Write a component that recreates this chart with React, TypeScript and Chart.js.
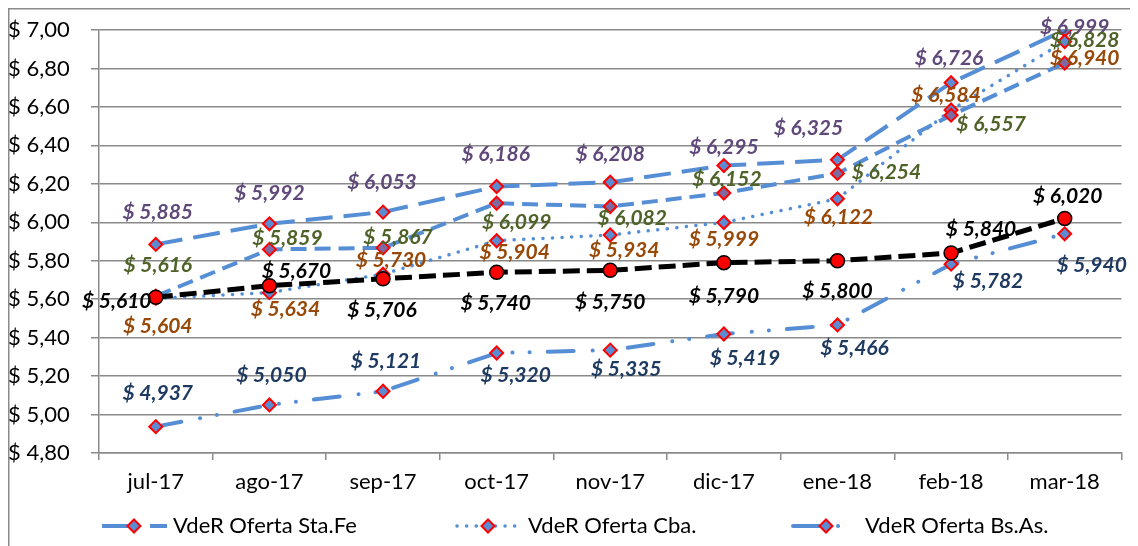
import { useEffect, useRef } from "react";
import { Chart, registerables } from "chart.js";
Chart.register(...registerables);

const categories = ["jul-17", "ago-17", "sep-17", "oct-17", "nov-17", "dic-17", "ene-18", "feb-18", "mar-18"];
const staFe = [5.885, 5.992, 6.053, 6.186, 6.208, 6.295, 6.325, 6.726, 6.999];
const cba = [5.604, 5.634, 5.73, 5.904, 5.934, 5.999, 6.122, 6.584, 6.94];
const bsAs = [4.937, 5.05, 5.121, 5.32, 5.335, 5.419, 5.466, 5.782, 5.94];
const serie4 = [5.616, 5.859, 5.867, 6.099, 6.082, 6.152, 6.254, 6.557, 6.828];
const serie5 = [5.61, 5.67, 5.706, 5.74, 5.75, 5.79, 5.8, 5.84, 6.02];
const seriesNames = ["VdeR Oferta Sta.Fe", "VdeR Oferta Cba.", "VdeR Oferta Bs.As.", "Serie 4", "Serie 5"];
const yMin = 4.8;
const yMax = 7.0;
const yStep = 0.2;

// label offsets (styling only) [dx, dy] relative to point
const offStaFe = [[2, -32], [0, -31], [-1, -30], [-1, -32], [0, -28], [0, -18], [-29, -32], [-2, -24], [10, -3]];
const offCba = [[2, 28], [16, 17], [8, -14], [18, 12], [14, 15], [0, 17], [1, 18], [-5, -15], [20, 17]];
const offBsAs = [[2, -33], [2, -30], [3, -30], [19, 22], [16, 19], [21, 24], [17, 23], [37, 17], [27, 31]];
const offS4 = [[2, -31], [18, -11], [15, -11], [20, 19], [22, 12], [3, -14], [49, -1], [40, 9], [20, -23]];
const offS5 = [[-39, 4], [27, -14], [-1, 31], [-1, 31], [0, 32], [0, 34], [0, 31], [30, -24], [3, -22]];

const FONT = "Lato, 'Open Sans', sans-serif";
const LINE = "#558ED5";

const fmtTick = (v: number) => "$ " + v.toFixed(2).replace(".", ",");
const fmtLabel = (v: number) => "$ " + v.toFixed(3).replace(".", ",");

export default function App() {
  const ref = useRef<HTMLCanvasElement | null>(null);
  useEffect(() => {
    if (!ref.current) return;
    const labelColors = ["#5F497A", "#984807", "#1F3A60", "#4F6228", "#000000"];
    const offsets = [offStaFe, offCba, offBsAs, offS4, offS5];

    const labelsPlugin = {
      id: "valueLabels",
      afterDatasetsDraw(chart: any) {
        const ctx = chart.ctx;
        ctx.save();
        ctx.font = `italic bold 21px ${FONT}`;
        ctx.textAlign = "center";
        ctx.textBaseline = "middle";
        chart.data.datasets.forEach((ds: any, i: number) => {
          const meta = chart.getDatasetMeta(i);
          ctx.fillStyle = labelColors[i];
          meta.data.forEach((pt: any, j: number) => {
            const o = offsets[i][j];
            ctx.fillText(fmtLabel(ds.data[j]), pt.x + o[0], pt.y + o[1]);
          });
        });
        ctx.restore();
      },
    };

    const frame = {
      id: "frame",
      beforeDraw(chart: any) {
        const ctx = chart.ctx;
        ctx.save();
        ctx.fillStyle = "#fff";
        ctx.fillRect(0, 0, chart.width, chart.height);
        ctx.strokeStyle = "#8a8a8a";
        ctx.lineWidth = 1.5;
        ctx.beginPath();
        ctx.moveTo(0.75, chart.height);
        ctx.lineTo(0.75, 0.75);
        ctx.lineTo(chart.width, 0.75);
        ctx.stroke();
        ctx.restore();
      },
    };

    const legendItems = [
      { ds: 0, x0: 94, x1: 159, mx: 126, tx: 165, dash: [26, 22] },
      { ds: 1, x0: 449, x1: 513, mx: 480, tx: 520, dash: null },
      { ds: 2, x0: 785, x1: 836, mx: 818, tx: 857, dash: null },
    ];
    const legendPlugin = {
      id: "customLegend",
      afterDraw(chart: any) {
        const ctx = chart.ctx;
        const y = 518;
        ctx.save();
        legendItems.forEach((it) => {
          const ds = chart.data.datasets[it.ds];
          ctx.strokeStyle = ds.borderColor;
          ctx.lineWidth = ds.borderWidth;
          ctx.lineCap = ds.borderCapStyle || "butt";
          ctx.setLineDash(it.dash || ds.borderDash || []);
          ctx.beginPath();
          ctx.moveTo(it.x0, y);
          ctx.lineTo(it.x1, y);
          ctx.stroke();
          ctx.setLineDash([]);
          const r = 6.5;
          ctx.beginPath();
          ctx.moveTo(it.mx, y - r);
          ctx.lineTo(it.mx + r, y);
          ctx.lineTo(it.mx, y + r);
          ctx.lineTo(it.mx - r, y);
          ctx.closePath();
          ctx.fillStyle = ds.pointBackgroundColor;
          ctx.fill();
          ctx.strokeStyle = ds.pointBorderColor;
          ctx.lineWidth = 2;
          ctx.stroke();
          ctx.fillStyle = "#000";
          ctx.font = `22px ${FONT}`;
          ctx.textAlign = "left";
          ctx.textBaseline = "middle";
          ctx.fillText(ds.label, it.tx, y);
        });
        ctx.restore();
      },
    };

    const diamond = (fill: string) => ({
      pointStyle: "rectRot",
      pointRadius: 6.5,
      pointBackgroundColor: fill,
      pointBorderColor: "#FF0000",
      pointBorderWidth: 2,
    });

    const chart = new Chart(ref.current, {
      type: "line",
      data: {
        labels: categories,
        datasets: [
          {
            label: seriesNames[0], data: staFe, borderColor: LINE, borderWidth: 4,
            borderDash: [27, 11], order: 4, ...diamond("#5B8BD0"),
          },
          {
            label: seriesNames[1], data: cba, borderColor: LINE, borderWidth: 3.5,
            borderDash: [0.1, 9.5], borderCapStyle: "round", order: 3, ...diamond("#5B8BD0"),
          },
          {
            label: seriesNames[2], data: bsAs, borderColor: LINE, borderWidth: 4,
            borderDash: [26, 19, 0.1, 17, 0.1, 18], borderCapStyle: "round", order: 2, ...diamond("#5B8BD0"),
          },
          {
            label: seriesNames[3], data: serie4, borderColor: LINE, borderWidth: 4,
            borderDash: [16, 8], order: 1, ...diamond("#7E6AA0"),
          },
          {
            label: seriesNames[4], data: serie5, borderColor: "#000000", borderWidth: 5,
            borderDash: [17, 7], order: 0,
            pointStyle: "circle", pointRadius: 7, pointBackgroundColor: "#FF0000",
            pointBorderColor: "#000000", pointBorderWidth: 1.5,
          },
        ] as any,
      },
      options: {
        animation: false,
        responsive: true,
        maintainAspectRatio: false,
        layout: { padding: { top: 22, right: 3, left: 0, bottom: 0 } },
        plugins: {
          legend: { display: false },
          tooltip: { enabled: false },
        },
        scales: {
          x: {
            offset: true,
            grid: {
              offset: true, drawOnChartArea: false, drawTicks: true,
              tickLength: 7, color: "#8a8a8a", lineWidth: 1.5,
            },
            border: { color: "#8a8a8a", width: 1.5 },
            ticks: { color: "#000", font: { family: FONT, size: 22 }, padding: 9, maxRotation: 0 },
            afterFit: (s: any) => { s.height = 93; },
          },
          y: {
            min: yMin, max: yMax,
            grid: { color: "#8a8a8a", lineWidth: 1.5, tickLength: 8 },
            border: { color: "#8a8a8a", width: 1.5 },
            ticks: {
              stepSize: yStep, color: "#000", font: { family: FONT, size: 22 },
              crossAlign: "far", padding: 4,
              callback: (v: any) => fmtTick(Number(v)),
            },
            afterFit: (s: any) => { s.width = 91; },
          },
        },
      } as any,
      plugins: [frame, labelsPlugin, legendPlugin],
    });
    return () => chart.destroy();
  }, []);

  return (
    <div style={{ width: 1122, height: 538, position: "relative" }}>
      <canvas ref={ref} />
    </div>
  );
}
